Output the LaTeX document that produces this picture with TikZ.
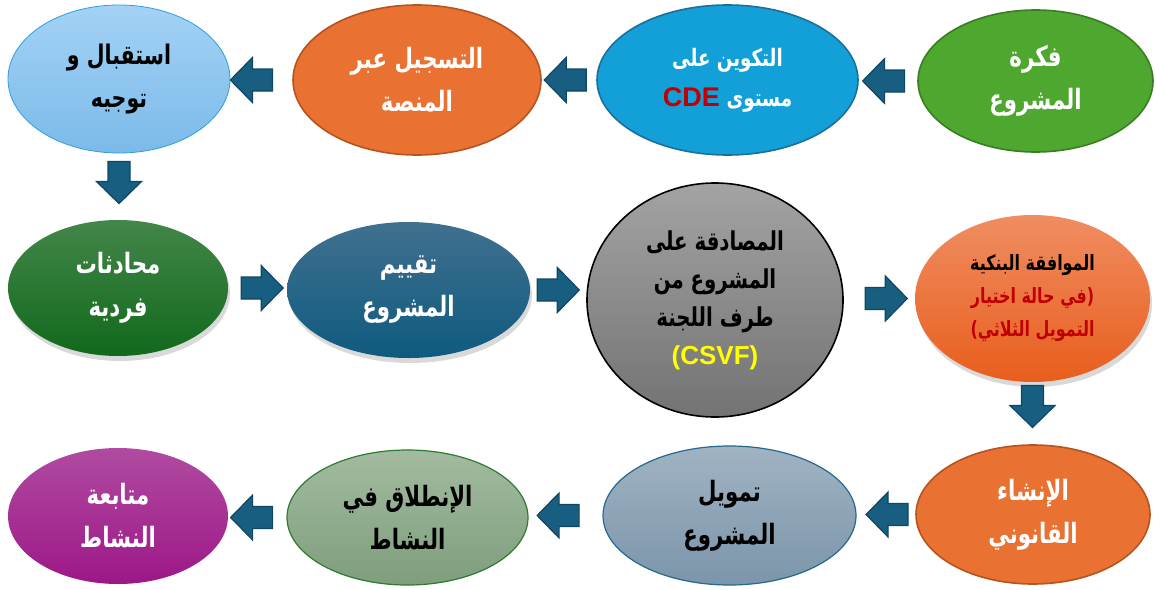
\documentclass[tikz,border=0pt]{standalone}
\usepackage{fontspec}
\setmainfont{Liberation Sans}
\newfontfamily\arabicfont[Script=Arabic, FakeStretch=0.76]{DejaVu Sans}
\TeXXeTstate=1
\usetikzlibrary{shapes.geometric,shadows}

\definecolor{arrowblue}{HTML}{175E80}
\definecolor{arrowedge}{HTML}{0F4763}
\definecolor{cdered}{HTML}{C00000}
\definecolor{csvfyellow}{HTML}{FFFF00}
\definecolor{orangefill}{HTML}{E97132}
\definecolor{orangeedge}{HTML}{B5541F}
\definecolor{skytop}{HTML}{A3D2F5}
\definecolor{skybot}{HTML}{7BBAE9}
\definecolor{skyedge}{HTML}{2E9FDB}
\definecolor{cyanfill}{HTML}{139FD8}
\definecolor{cyanedge}{HTML}{1D6F9A}
\definecolor{leaffill}{HTML}{4EA72E}
\definecolor{leafedge}{HTML}{3B7D22}
\definecolor{foresttop}{HTML}{43864A}
\definecolor{forestbot}{HTML}{11691B}
\definecolor{navytop}{HTML}{41708F}
\definecolor{navybot}{HTML}{0E5B7F}
\definecolor{greytop}{HTML}{A3A3A3}
\definecolor{greybot}{HTML}{737373}
\definecolor{peachtop}{HTML}{F08D62}
\definecolor{peachbot}{HTML}{E85E1C}
\definecolor{plumtop}{HTML}{B04BA1}
\definecolor{plumbot}{HTML}{9D1787}
\definecolor{sagetop}{HTML}{A3BBA1}
\definecolor{sagebot}{HTML}{7E9E7C}
\definecolor{sageedge}{HTML}{2F7A31}
\definecolor{slatetop}{HTML}{A0B3C3}
\definecolor{slatebot}{HTML}{7C95AA}
\definecolor{slateedge}{HTML}{24698D}

\newcommand{\ar}[1]{{\arabicfont\beginR #1\endR}}

\tikzset{
	stage/.style={ellipse, inner sep=0pt, align=center, font=\bfseries\fontsize{14}{21.5}\selectfont},
	softshadow/.style={drop shadow={opacity=.3, shadow xshift=1pt, shadow yshift=-2.5pt}},
	arrowbody/.style={fill=arrowblue, draw=arrowedge, line width=.6pt},
	alongpath/.style={sloped, allow upside down},
	flowarrow/.pic={\draw[arrowbody] (-21,-11) -- (-1,-11) -- (-1,-22.5) -- (21,0) -- (-1,22.5) -- (-1,11) -- (-21,11) -- cycle;}
}

\begin{document}
\begin{tikzpicture}[x=.5pt, y=-.5pt]
	\useasboundingbox (0,0) rectangle (1155,589);

	\node[stage, minimum width=111pt, minimum height=74pt, top color=skytop, bottom color=skybot, draw=skyedge, text=black, font=\bfseries\fontsize{13.5}{21.5}\selectfont] (e1) at (119,79) {\ar{استقبال و}\\\ar{توجيه}};
	\node[stage, minimum width=124pt, minimum height=75pt, fill=orangefill, draw=orangeedge, line width=.8pt, text=white] (e2) at (417,80) {\ar{التسجيل عبر}\\\ar{المنصة}};
	\node[stage, minimum width=130.5pt, minimum height=75pt, fill=cyanfill, draw=cyanedge, line width=.8pt, text=white, font=\bfseries\fontsize{12}{20}\selectfont] (e3) at (727.5,80) {\ar{التكوين على}\\\textcolor{cdered}{\fontsize{13.5}{20}\selectfont CDE} \ar{مستوى}};
	\node[stage, minimum width=117.5pt, minimum height=71pt, fill=leaffill, draw=leafedge, line width=.8pt, text=white] (e4) at (1035.5,81) {\ar{فكرة}\\\ar{المشروع}};

	\node[stage, softshadow, minimum width=110pt, minimum height=68pt, top color=foresttop, bottom color=forestbot, text=white] (e5) at (118,288) {\ar{محادثات}\\\ar{فردية}};
	\node[stage, softshadow, minimum width=121.5pt, minimum height=68pt, top color=navytop, bottom color=navybot, text=white] (e6) at (408.5,290) {\ar{تقييم}\\\ar{المشروع}};
	\node[stage, minimum width=128pt, minimum height=117pt, top color=greytop, bottom color=greybot, draw=black, line width=.8pt, text=black, font=\bfseries\fontsize{13}{19}\selectfont] (e7) at (715,300) {\ar{المصادقة على}\\\ar{المشروع من}\\\ar{طرف اللجنة}\\\textcolor{csvfyellow}{(CSVF)}};
	\node[stage, softshadow, minimum width=117.5pt, minimum height=83.5pt, top color=peachtop, bottom color=peachbot, text=black, font=\bfseries\fontsize{10.5}{16.5}\selectfont] (e8) at (1032.5,298.5) {\ar{الموافقة البنكية}\\\textcolor{cdered}{\ar{(في حالة اختيار}}\\\textcolor{cdered}{\ar{التمويل الثلاثي)}}};

	\node[stage, minimum width=110pt, minimum height=68pt, top color=plumtop, bottom color=plumbot, text=white] (e9) at (118,516) {\ar{متابعة}\\\ar{النشاط}};
	\node[stage, minimum width=120.5pt, minimum height=67.5pt, top color=sagetop, bottom color=sagebot, draw=sageedge, line width=.6pt, text=black] (e10) at (407.5,517.5) {\ar{الإنطلاق في}\\\ar{النشاط}};
	\node[stage, minimum width=126.5pt, minimum height=69.5pt, top color=slatetop, bottom color=slatebot, draw=slateedge, line width=.6pt, text=black] (e11) at (729.5,515.5) {\ar{تمويل}\\\ar{المشروع}};
	\node[stage, minimum width=117pt, minimum height=69.5pt, fill=orangefill, draw=orangeedge, line width=.8pt, text=white] (e12) at (1033,514.5) {\ar{الإنشاء}\\\ar{القانوني}};

	\path (e4.west) -- (e4.west -| e3.east) pic[alongpath, pos=.575] {flowarrow};
	\path (e3.west) -- (e3.west -| e2.east) pic[alongpath, pos=.57] {flowarrow};
	\path (e2.west) -- (e2.west -| e1.east) pic[alongpath, pos=.66] {flowarrow};
	\path (e1.south) -- (e1.south |- e5.north) pic[alongpath, pos=.44] {flowarrow};
	\path (e5.east) -- (e5.east -| e6.west) pic[alongpath, pos=.58] {flowarrow};
	\path (e6.east) -- (e6.east -| e7.west) pic[alongpath, pos=.5] {flowarrow};
	\path (e8.west -| e7.east) -- (e8.west) pic[alongpath, pos=.6] {flowarrow};
	\path (e8.south) -- (e8.south |- e12.north) pic[alongpath, pos=.39] {flowarrow};
	\path (e12.west) -- (e12.west -| e11.east) pic[alongpath, pos=.48] {flowarrow};
	\path (e11.west) -- (e11.west -| e10.east) pic[alongpath, pos=.6] {flowarrow};
	\path (e10.west) -- (e10.west -| e9.east) pic[alongpath, pos=.6] {flowarrow};
\end{tikzpicture}
\end{document}
